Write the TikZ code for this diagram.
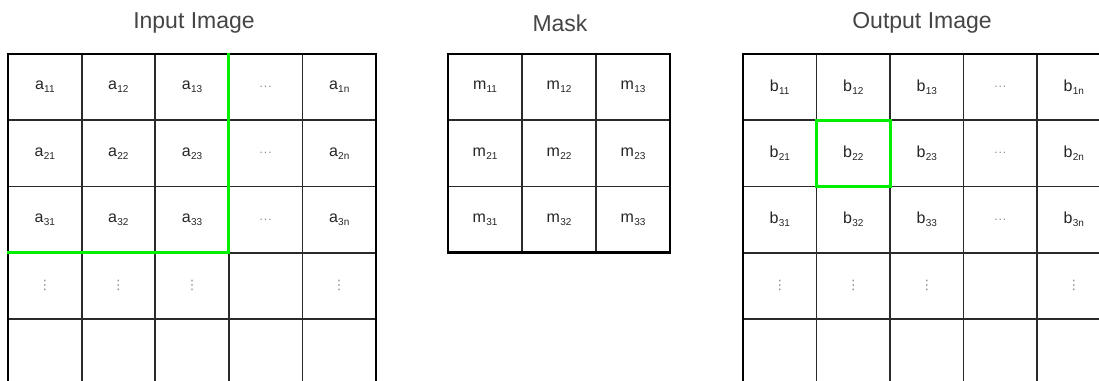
\documentclass[tikz,border=0pt]{standalone}
\usepackage{fontspec}
\setmainfont{Liberation Sans}
\newfontfamily\dvfont{DejaVu Sans}
\definecolor{gridline}{HTML}{2A2A2A}
\definecolor{hl}{HTML}{00EE00}
\definecolor{titlegray}{HTML}{454545}
\definecolor{dotgray}{HTML}{8A8A8A}
\newcommand{\cl}[2]{#1\kern0.3pt\raisebox{-0.35ex}{\fontsize{10}{10}\selectfont #2}}
\newcommand{\hd}{{\color{dotgray}\fontsize{12}{12}\selectfont .\kern1pt.\kern1pt.}}
\newcommand{\vd}{{\color{dotgray}\dvfont\fontsize{13}{13}\selectfont ⋮}}
\tikzset{
  cell/.style={draw=gridline, line width=1.8pt, minimum width=#1, minimum height=66.2pt,
    inner sep=0pt, outer sep=0pt, anchor=north west, text=black!85,
    font=\fontsize{16}{16}\selectfont},
  cell/.default=73.6pt,
  frame/.style={draw=black, line width=2.8pt, line cap=rect},
  hlline/.style={draw=hl, line width=3pt, line cap=rect, line join=miter},
  titletext/.style={text=titlegray, font=\fontsize{23}{23}\selectfont, inner sep=0pt}
}
\begin{document}
\begin{tikzpicture}[x=1pt,y=-1pt]
\useasboundingbox (0,0) rectangle (1099,380);
\clip (0,0) rectangle (1099,380);
\fill[white] (0,0) rectangle (1099,380);

% titles
\node[titletext] (tin) at (194,23) {Input Image};
\node[titletext] (tmask) at (560,23) {Mask};
\node[titletext] (tout) at (922,23) {Output Image};

% ---------- Input image ----------
\foreach \t [count=\c] in {\cl{a}{11},\cl{a}{12},\cl{a}{13},\hd,\cl{a}{1n}}
  \node[cell] (in-1-\c) at ({8+(\c-1)*73.6},54) {\t};
\foreach \t [count=\c] in {\cl{a}{21},\cl{a}{22},\cl{a}{23},\hd,\cl{a}{2n}}
  \node[cell] (in-2-\c) at ({8+(\c-1)*73.6},120.2) {\t};
\foreach \t [count=\c] in {\cl{a}{31},\cl{a}{32},\cl{a}{33},\hd,\cl{a}{3n}}
  \node[cell] (in-3-\c) at ({8+(\c-1)*73.6},186.4) {\t};
\foreach \t [count=\c] in {\vd,\vd,\vd,{},\vd}
  \node[cell] (in-4-\c) at ({8+(\c-1)*73.6},252.6) {\t};
\foreach \c in {1,...,5}
  \node[cell] (in-5-\c) at ({8+(\c-1)*73.6},318.8) {};
\draw[frame] (in-5-1.south west) -- (in-1-1.north west) -- (in-1-5.north east) -- (in-5-5.south east);
\draw[hlline] (in-1-3.north east) -- (in-3-3.south east) -- (in-3-1.south west);

% ---------- Mask ----------
\foreach \t [count=\c] in {\cl{m}{11},\cl{m}{12},\cl{m}{13}}
  \node[cell=74pt] (m-1-\c) at ({448+(\c-1)*74},54) {\t};
\foreach \t [count=\c] in {\cl{m}{21},\cl{m}{22},\cl{m}{23}}
  \node[cell=74pt] (m-2-\c) at ({448+(\c-1)*74},120.2) {\t};
\foreach \t [count=\c] in {\cl{m}{31},\cl{m}{32},\cl{m}{33}}
  \node[cell=74pt] (m-3-\c) at ({448+(\c-1)*74},186.4) {\t};
\draw[frame] (m-1-1.north west) rectangle (m-3-3.south east);

% ---------- Output image ----------
\foreach \t [count=\c] in {\cl{b}{11},\cl{b}{12},\cl{b}{13},\hd,\cl{b}{1n}}
  \node[cell=73.5pt] (out-1-\c) at ({743+(\c-1)*73.5},54) {\t};
\foreach \t [count=\c] in {\cl{b}{21},\cl{b}{22},\cl{b}{23},\hd,\cl{b}{2n}}
  \node[cell=73.5pt] (out-2-\c) at ({743+(\c-1)*73.5},120.2) {\t};
\foreach \t [count=\c] in {\cl{b}{31},\cl{b}{32},\cl{b}{33},\hd,\cl{b}{3n}}
  \node[cell=73.5pt] (out-3-\c) at ({743+(\c-1)*73.5},186.4) {\t};
\foreach \t [count=\c] in {\vd,\vd,\vd,{},\vd}
  \node[cell=73.5pt] (out-4-\c) at ({743+(\c-1)*73.5},252.6) {\t};
\foreach \c in {1,...,5}
  \node[cell=73.5pt] (out-5-\c) at ({743+(\c-1)*73.5},318.8) {};
\draw[frame] (out-5-1.south west) -- (out-1-1.north west) -- (out-1-5.north east) -- (out-5-5.south east);
\draw[hlline] (out-2-2.north west) rectangle (out-2-2.south east);
\end{tikzpicture}
\end{document}
